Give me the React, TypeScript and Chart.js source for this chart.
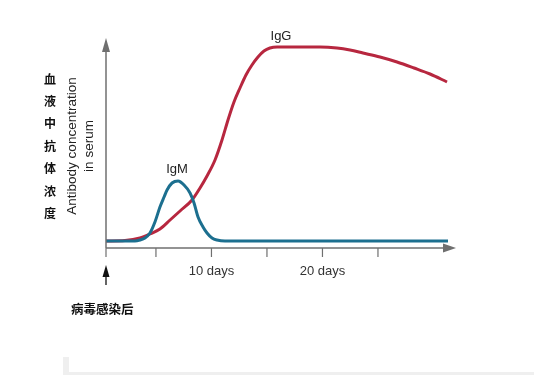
import React, { useEffect, useRef } from "react";
import { Chart, registerables } from "chart.js";

Chart.register(...registerables);

// Days after infection and antibody level (arbitrary units)
const igmDays = [0.5, 3.11, 3.56, 4.01, 4.46, 4.91, 5.36, 5.73, 6.0, 6.45, 6.99, 7.53, 8.07, 8.43, 8.79, 9.24, 9.6, 10.05, 10.5, 11.22, 31.31];
const igmLevels = [7, 7, 8, 10, 15, 26, 41, 51, 58, 65, 67, 63, 55, 45, 31, 21, 15, 10, 8, 7, 7];

const iggDays = [0.5, 2.21, 3.56, 4.46, 5.36, 6.27, 7.17, 8.25, 8.97, 9.6, 10.32, 10.95, 11.49, 12.03, 12.57, 13.11, 13.65, 14.19, 14.73, 15.27, 15.91, 17.98, 19.78, 21.31, 22.48, 23.65, 25.18, 26.72, 28.25, 29.69, 31.22];
const iggLevels = [7, 7.5, 10, 14, 19, 28, 37, 48, 60, 72, 88, 108, 128, 146, 160, 173, 183, 191, 197, 200, 201, 201, 201, 200, 198, 195, 191, 186, 180, 174, 166];

const X_MIN = 0.5;
const X_MAX = 32.03;
const Y_MAX = 210;

const xTickValues = [X_MIN, 5, 10, 15, 20, 25];
const xTickLabels = ["", "", "10 days", "", "20 days", ""];

const seriesLabels = ["IgM", "IgG"];
const yTitleEn = ["Antibody concentration", "in serum"];
const yTitleZh = "血液中抗体浓度";
const startNote = "病毒感染后";

export default function App() {
  const ref = useRef<HTMLCanvasElement | null>(null);

  useEffect(() => {
    if (!ref.current) return;
    const axisColor = "#6f6f6f";
    const decor = {
      id: "decor",
      afterDraw(chart: any) {
        const ctx = chart.ctx as CanvasRenderingContext2D;
        const xs = chart.scales.x;
        const ys = chart.scales.y;
        const x0 = xs.getPixelForValue(X_MIN);
        const y0 = ys.getPixelForValue(0);
        const xEnd = xs.getPixelForValue(X_MAX);
        const yTop = ys.getPixelForValue(Y_MAX);
        ctx.save();
        // faint artifact at bottom
        ctx.fillStyle = "#efefef";
        ctx.fillRect(63, 357, 6, 18);
        ctx.fillRect(63, 372, 471, 3);

        ctx.strokeStyle = axisColor;
        ctx.fillStyle = axisColor;
        ctx.lineWidth = 1.5;
        // x axis
        ctx.beginPath();
        ctx.moveTo(x0, y0);
        ctx.lineTo(xEnd - 10, y0);
        ctx.stroke();
        ctx.beginPath();
        ctx.moveTo(xEnd, y0);
        ctx.lineTo(xEnd - 13, y0 - 4.5);
        ctx.lineTo(xEnd - 13, y0 + 4.5);
        ctx.closePath();
        ctx.fill();
        // y axis
        ctx.beginPath();
        ctx.moveTo(x0, y0);
        ctx.lineTo(x0, yTop + 10);
        ctx.stroke();
        ctx.beginPath();
        ctx.moveTo(x0, yTop);
        ctx.lineTo(x0 - 4, yTop + 14);
        ctx.lineTo(x0 + 4, yTop + 14);
        ctx.closePath();
        ctx.fill();
        // ticks
        ctx.lineWidth = 1.2;
        ctx.font = "13px 'Liberation Sans', Arial, sans-serif";
        ctx.textAlign = "center";
        ctx.textBaseline = "middle";
        xTickValues.forEach((v, i) => {
          const px = xs.getPixelForValue(v);
          ctx.strokeStyle = axisColor;
          ctx.beginPath();
          ctx.moveTo(px, y0);
          ctx.lineTo(px, y0 + 9);
          ctx.stroke();
          if (xTickLabels[i]) {
            ctx.fillStyle = "#333";
            ctx.fillText(xTickLabels[i], px, y0 + 23);
          }
        });
        // series labels
        ctx.fillStyle = "#222";
        ctx.fillText(seriesLabels[0], 177, 169);
        ctx.fillText(seriesLabels[1], 281, 36);
        // y title english (rotated)
        ctx.save();
        ctx.translate(72, 146);
        ctx.rotate(-Math.PI / 2);
        ctx.fillStyle = "#222";
        ctx.font = "13.5px 'Liberation Sans', Arial, sans-serif";
        ctx.fillText(yTitleEn[0], 0, 0);
        ctx.fillText(yTitleEn[1], 0, 17);
        ctx.restore();
        // y title chinese vertical
        ctx.fillStyle = "#111";
        ctx.font = "bold 12px 'Noto Sans CJK SC', sans-serif";
        Array.from(yTitleZh).forEach((ch, i) => {
          ctx.fillText(ch, 50, 79 + i * 22.4);
        });
        // start arrow
        ctx.strokeStyle = "#111";
        ctx.fillStyle = "#111";
        ctx.lineWidth = 1.3;
        ctx.beginPath();
        ctx.moveTo(x0, 285);
        ctx.lineTo(x0, 272);
        ctx.stroke();
        ctx.beginPath();
        ctx.moveTo(x0, 265);
        ctx.lineTo(x0 - 3.5, 277);
        ctx.lineTo(x0 + 3.5, 277);
        ctx.closePath();
        ctx.fill();
        ctx.font = "bold 12.5px 'Noto Sans CJK SC', sans-serif";
        ctx.textAlign = "left";
        ctx.fillText(startNote, 71, 309);
        ctx.restore();
      },
    };

    const chart = new Chart(ref.current, {
      type: "line",
      data: {
        datasets: [
          {
            label: seriesLabels[0],
            data: igmDays.map((d, i) => ({ x: d, y: igmLevels[i] })),
            borderColor: "#1c6f8f",
            borderWidth: 3,
            pointRadius: 0,
            cubicInterpolationMode: "monotone",
            fill: false,
          },
          {
            label: seriesLabels[1],
            data: iggDays.map((d, i) => ({ x: d, y: iggLevels[i] })),
            borderColor: "#b7273f",
            borderWidth: 3,
            pointRadius: 0,
            cubicInterpolationMode: "monotone",
            fill: false,
          },
        ],
      },
      options: {
        responsive: false,
        animation: false,
        layout: { padding: { left: 106, top: 38, right: 78, bottom: 127 } },
        plugins: { legend: { display: false }, tooltip: { enabled: false } },
        scales: {
          x: { type: "linear", min: X_MIN, max: X_MAX, display: false },
          y: { type: "linear", min: 0, max: Y_MAX, display: false },
        },
      },
      plugins: [decor],
    });
    return () => chart.destroy();
  }, []);

  return (
    <div style={{ position: "fixed", left: 0, top: 0, width: 534, height: 375, background: "#fff" }}>
      <canvas ref={ref} width={534} height={375} style={{ width: 534, height: 375 }} />
    </div>
  );
}
